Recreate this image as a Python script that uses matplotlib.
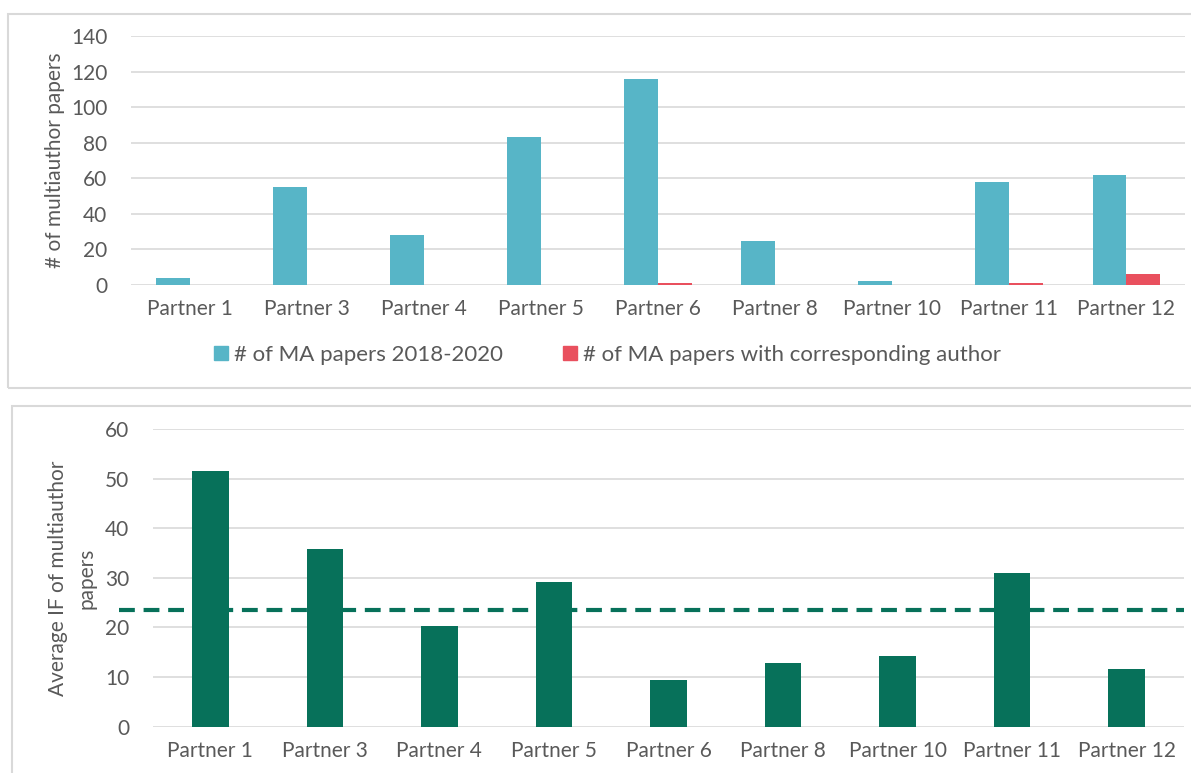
import numpy as np
import matplotlib.pyplot as plt
from matplotlib.patches import Rectangle, Patch

partners = ["Partner 1", "Partner 3", "Partner 4", "Partner 5", "Partner 6",
            "Partner 8", "Partner 10", "Partner 11", "Partner 12"]
ma_papers = [4, 55, 28, 83, 116, 25, 2, 58, 62]
ma_corresponding = [0, 0, 0, 0, 1, 0, 0, 1, 6]
avg_if = [51.5, 35.8, 20.2, 29.2, 9.4, 12.8, 14.3, 31.0, 11.6]
avg_if_mean = 23.6

TEAL = "#57B5C7"
RED = "#E9505E"
GREEN = "#07715A"
GRID = "#D9D9D9"
TEXT = "#595959"
FS = 15

plt.rcParams['font.family'] = ['Lato', 'DejaVu Sans']
plt.rcParams['text.color'] = TEXT


def style_axis(ax, ymax, step):
    ax.set_ylim(0, ymax)
    ax.set_yticks(np.arange(0, ymax + 1, step))
    ax.grid(axis='y', color=GRID, linewidth=1.2)
    ax.set_axisbelow(True)
    for s in ax.spines.values():
        s.set_visible(False)
    ax.tick_params(axis='both', length=0, colors=TEXT, labelsize=FS)
    ax.tick_params(axis='x', pad=10)
    ax.tick_params(axis='y', pad=17)
    ax.set_xlim(-0.5, len(partners) - 0.5)
    ax.set_xticks(range(len(partners)))
    ax.set_xticklabels(partners)


def main():
    fig = plt.figure(figsize=(11.91, 7.73), dpi=100)

    # panel borders
    fig.patches.append(Rectangle((8 / 1191, 1 - 388 / 773), 1.1, (388 - 14) / 773,
                                 transform=fig.transFigure, fill=False,
                                 edgecolor=GRID, linewidth=1.5))
    fig.patches.append(Rectangle((12 / 1191, -0.1), 1.1, 0.1 + 1 - 406 / 773,
                                 transform=fig.transFigure, fill=False,
                                 edgecolor=GRID, linewidth=1.5))

    x = np.arange(len(partners))
    w = 0.29

    ax1 = fig.add_axes([0.110, 0.6313, 0.885, 0.3221])
    ax1.bar(x - w / 2, ma_papers, w, color=TEAL)
    ax1.bar(x + w / 2, ma_corresponding, w, color=RED)
    style_axis(ax1, 140, 20)
    ax1.set_ylabel("# of multiauthor papers", fontsize=FS, color=TEXT)
    ax1.yaxis.set_label_coords(-0.063, 0.5)

    handles = [Patch(color=TEAL), Patch(color=RED)]
    fig.legend(handles, ["# of MA papers 2018-2020",
                         "# of MA papers with corresponding author"],
               loc='center', bbox_to_anchor=(0.510, 0.541), ncol=2, frameon=False,
               fontsize=16, handlelength=0.63, handleheight=0.63, handletextpad=0.27,
               columnspacing=2.7)

    ax2 = fig.add_axes([0.1285, 0.0599, 0.8655, 0.3851])
    ax2.bar(x, avg_if, 0.32, color=GREEN)
    ax2.plot([-0.033, 1.0], [avg_if_mean, avg_if_mean], transform=ax2.get_yaxis_transform(),
             color=GREEN, linestyle=(0, (3.8, 2.1)), linewidth=3, clip_on=False)
    style_axis(ax2, 60, 10)
    ax2.set_ylabel("Average IF of multiauthor\npapers", fontsize=FS, color=TEXT,
                   linespacing=1.55)
    ax2.yaxis.set_label_coords(-0.055, 0.5)

    fig.savefig("out.png", dpi=100)


if __name__ == "__main__":
    main()
